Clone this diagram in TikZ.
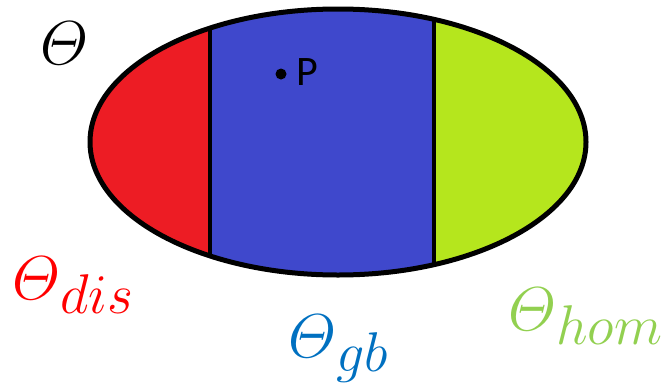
\RequirePackage{fix-cm}
\documentclass[tikz,border=0pt]{standalone}
\usepackage{amsmath}
\usepackage{fontspec}
\setsansfont{Carlito}
\usetikzlibrary{positioning}
\definecolor{disred}{HTML}{ED1C24}
\definecolor{gbblue}{HTML}{3F48CC}
\definecolor{homgreen}{HTML}{B5E61D}
\definecolor{distext}{HTML}{FF0000}
\definecolor{gbtext}{HTML}{0070C0}
\definecolor{homtext}{HTML}{92D050}
\newcommand{\thetasub}[1]{$\varTheta$\raisebox{-14pt}{\fontsize{56}{60}\selectfont$#1$}}

\begin{document}
\begin{tikzpicture}[
  x=1pt, y=-1pt,
  region/.style={fill=#1},
  border/.style={line width=5pt},
  setlabel/.style={inner sep=0pt, anchor=base west, text=#1, font=\fontsize{62}{70}\selectfont},
]
\useasboundingbox (0,0) rectangle (661,383);
% the three parts of the set
\begin{scope}
  \clip (338,142) ellipse [x radius=248pt, y radius=133pt];
  \fill[region=disred] (80,0) rectangle (210,290);
  \fill[region=gbblue] (210,0) rectangle (434,290);
  \fill[region=homgreen] (434,0) rectangle (600,290);
  \draw[line width=4pt] (210,0) -- (210,290);
  \draw[line width=4pt] (434,0) -- (434,290);
\end{scope}
\draw[border] (338,142) ellipse [x radius=248pt, y radius=133pt];
% point
\fill (281,74) coordinate (p) circle (5.5pt);
\node[inner sep=0pt, anchor=base west, font=\sffamily\fontsize{42}{48}\selectfont] (plabel) at (296,85) {P};
% labels
\node[setlabel=black] (theta) at (40,64) {$\varTheta$};
\node[setlabel=distext] (dis) at (12,299) {\thetasub{dis}};
\node[setlabel=gbtext] (gb) at (288,357) {\thetasub{gb}};
\node[setlabel=homtext] (hom) at (508,330) {\thetasub{hom}};
\end{tikzpicture}
\end{document}
